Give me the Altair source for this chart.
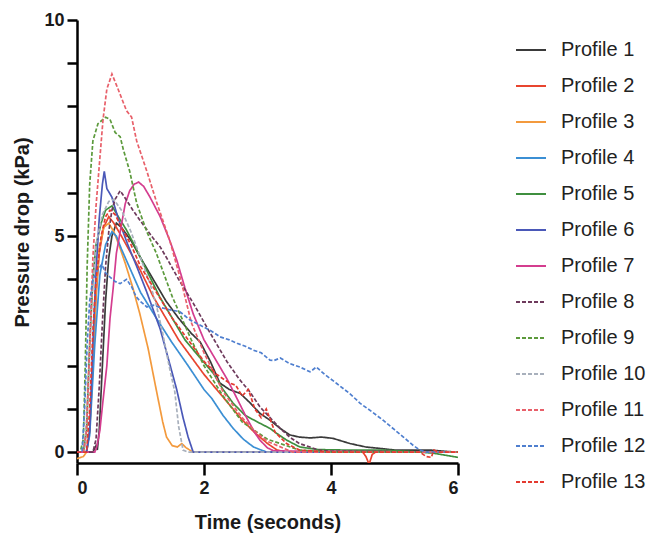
import altair as alt
import pandas as pd

profiles = [f"Profile {i}" for i in range(1, 14)]
colors = ["#3a3a3a", "#e8452f", "#f39a3d", "#3b8fd4", "#3f8f3f", "#4a58b8", "#d43d8f",
          "#6e3a5c", "#5c9a3c", "#a8b0bc", "#e8606a", "#4f7fcf", "#e43a30"]
dashes = [[1, 0]] * 7 + [[4, 2]] * 6

p1_t = [0, 0.25, 0.3, 0.32, 0.35, 0.4, 0.45, 0.5, 0.55, 0.62, 0.7, 0.85, 1.0, 1.2, 1.4, 1.6, 1.8, 1.94, 2.1, 2.25, 2.4, 2.57, 2.72, 2.88, 3.04, 3.2, 3.35, 3.5, 3.67, 3.85, 4.03, 4.3, 4.55, 4.82, 5.0, 5.3, 5.56, 5.8, 6.0]
p1_p = [0, 0, 0.15, 0.05, 0.5, 2.0, 3.5, 4.5, 5.0, 5.3, 5.2, 4.9, 4.5, 4.0, 3.5, 3.1, 2.75, 2.55, 2.1, 1.6, 1.45, 1.36, 1.15, 0.9, 0.74, 0.55, 0.4, 0.35, 0.33, 0.35, 0.32, 0.2, 0.12, 0.08, 0.05, 0.05, 0.05, 0.02, 0]

p2_t = [0, 0.15, 0.2, 0.25, 0.3, 0.35, 0.42, 0.5, 0.58, 0.7, 0.85, 1.0, 1.2, 1.4, 1.6, 1.8, 2.0, 2.2, 2.4, 2.6, 2.8, 3.0, 3.15, 3.3, 4.5, 4.55, 4.6, 4.65, 4.7, 6.0]
p2_p = [0, 0, 0.5, 2.0, 3.6, 4.6, 5.2, 5.45, 5.3, 5.0, 4.6, 4.2, 3.6, 3.1, 2.6, 2.2, 1.8, 1.45, 1.1, 0.75, 0.45, 0.2, 0.05, 0, 0, -0.1, -0.28, -0.05, 0, 0]

p3_t = [0, 0.1, 0.15, 0.2, 0.25, 0.3, 0.35, 0.42, 0.5, 0.58, 0.66, 0.76, 0.88, 0.99, 1.12, 1.25, 1.35, 1.41, 1.5, 1.58, 1.65, 1.72, 1.83, 6.0]
p3_p = [-0.15, -0.1, 0, 0.5, 2.0, 3.7, 4.7, 5.2, 5.3, 5.1, 4.8, 4.37, 3.8, 3.2, 2.4, 1.43, 0.7, 0.35, 0.15, 0.12, 0.2, 0.1, 0, 0]

p4_t = [0, 0.15, 0.2, 0.28, 0.36, 0.45, 0.55, 0.62, 0.7, 0.85, 1.0, 1.25, 1.49, 1.75, 2.0, 2.12, 2.3, 2.46, 2.62, 2.78, 2.9, 3.0, 6.0]
p4_p = [0, 0, 0.4, 2.5, 4.1, 4.8, 5.1, 5.0, 4.7, 4.2, 3.7, 3.1, 2.55, 2.0, 1.45, 1.25, 0.85, 0.55, 0.3, 0.12, 0.05, 0, 0]

p5_t = [0, 0.1, 0.15, 0.2, 0.25, 0.3, 0.38, 0.45, 0.55, 0.65, 0.78, 0.9, 1.1, 1.3, 1.5, 1.7, 1.9, 2.15, 2.3, 2.46, 2.65, 2.88, 3.04, 3.14, 3.3, 3.51, 3.8, 4.2, 4.8, 5.2, 5.6, 6.0]
p5_p = [0, 0, 0.5, 2.5, 4.0, 4.8, 5.3, 5.6, 5.7, 5.45, 5.14, 4.8, 4.2, 3.6, 3.1, 2.6, 2.25, 1.82, 1.45, 1.13, 0.85, 0.67, 0.55, 0.44, 0.28, 0.12, 0.06, 0.05, 0.05, 0.02, -0.02, -0.12]

p6_t = [0, 0.15, 0.2, 0.25, 0.3, 0.35, 0.4, 0.43, 0.47, 0.55, 0.65, 0.8, 0.94, 1.1, 1.31, 1.45, 1.57, 1.67, 1.75, 1.83, 6.0]
p6_p = [0, 0, 0.5, 2.5, 4.2, 5.4, 6.2, 6.5, 6.1, 5.9, 5.4, 4.8, 4.3, 3.7, 2.85, 2.1, 1.45, 0.8, 0.35, 0, 0]

p7_t = [0, 0.28, 0.31, 0.36, 0.41, 0.47, 0.52, 0.57, 0.62, 0.68, 0.76, 0.83, 0.9, 0.97, 1.05, 1.15, 1.31, 1.46, 1.57, 1.7, 1.83, 2.0, 2.2, 2.36, 2.5, 2.67, 2.8, 2.88, 3.0, 3.1, 6.0]
p7_p = [0, 0, 0.12, 0.5, 1.2, 2.0, 3.1, 3.8, 4.6, 5.1, 5.75, 6.05, 6.2, 6.25, 6.15, 5.9, 5.45, 4.9, 4.45, 3.8, 3.2, 2.6, 2.1, 1.7, 1.3, 0.8, 0.45, 0.28, 0.1, 0.03, 0]

p8_t = [0, 0.25, 0.3, 0.35, 0.4, 0.45, 0.5, 0.55, 0.6, 0.68, 0.75, 0.88, 1.0, 1.1, 1.2, 1.31, 1.41, 1.6, 1.83, 2.1, 2.36, 2.55, 2.72, 2.88, 3.04, 3.2, 3.35, 3.5, 3.67, 3.8, 4.0, 6.0]
p8_p = [0, 0, 0.3, 1.5, 3.0, 4.3, 5.1, 5.6, 5.85, 6.05, 5.9, 5.6, 5.35, 5.15, 4.95, 4.75, 4.5, 4.0, 3.45, 2.75, 2.1, 1.7, 1.4, 1.05, 0.8, 0.55, 0.35, 0.2, 0.12, 0.05, 0.02, 0]

p9_t = [0, 0.05, 0.1, 0.13, 0.16, 0.2, 0.25, 0.33, 0.45, 0.52, 0.6, 0.68, 0.73, 0.83, 0.94, 1.1, 1.25, 1.5, 1.8, 2.0, 2.3, 2.6, 3.0, 3.5, 4.0, 6.0]
p9_p = [0, 0, 0.3, 2.0, 4.3, 6.2, 7.2, 7.6, 7.75, 7.7, 7.4, 7.3, 7.0, 6.5, 5.76, 5.1, 4.6, 3.6, 2.6, 2.0, 1.3, 0.7, 0.3, 0.05, 0, 0]

p10_t = [0, 0.12, 0.18, 0.23, 0.3, 0.4, 0.5, 0.58, 0.7, 0.85, 1.0, 1.15, 1.25, 1.35, 1.45, 1.54, 1.6, 1.67, 1.75, 6.0]
p10_p = [0, 0, 1.5, 3.5, 4.8, 5.5, 5.8, 5.85, 5.6, 5.1, 4.5, 3.9, 3.4, 2.75, 2.0, 1.4, 0.6, 0.05, 0, 0]

p11_t = [0, 0.1, 0.15, 0.2, 0.25, 0.3, 0.36, 0.41, 0.47, 0.55, 0.62, 0.7, 0.78, 0.86, 0.94, 1.1, 1.25, 1.46, 1.65, 1.8, 2.0, 2.3, 2.6, 2.83, 3.0, 3.4, 6.0]
p11_p = [0, 0, 0.5, 2.5, 4.5, 5.7, 6.8, 7.7, 8.4, 8.75, 8.5, 8.2, 7.9, 7.75, 7.2, 6.5, 5.8, 4.9, 3.9, 3.0, 2.3, 1.4, 0.8, 0.45, 0.25, 0, 0]

p12_t = [0, 0.08, 0.12, 0.16, 0.2, 0.25, 0.32, 0.39, 0.45, 0.52, 0.6, 0.68, 0.78, 0.86, 0.93, 0.99, 1.1, 1.2, 1.31, 1.45, 1.62, 1.78, 1.99, 2.12, 2.25, 2.4, 2.52, 2.65, 2.78, 2.9, 3.04, 3.1, 3.2, 3.35, 3.51, 3.67, 3.77, 3.9, 4.09, 4.3, 4.46, 4.65, 4.82, 5.0, 5.14, 5.3, 5.4, 5.5, 5.8]
p12_p = [0, 0, 1.0, 2.5, 3.5, 4.0, 4.2, 4.35, 4.15, 4.05, 3.95, 3.9, 4.0, 3.83, 3.6, 3.5, 3.36, 3.4, 3.35, 3.3, 3.25, 3.06, 2.9, 2.8, 2.67, 2.6, 2.52, 2.45, 2.36, 2.3, 2.13, 2.12, 2.18, 2.05, 1.97, 1.86, 1.97, 1.8, 1.59, 1.35, 1.13, 0.93, 0.74, 0.52, 0.35, 0.15, 0.05, 0, 0]

p13_t = [0, 0.15, 0.2, 0.25, 0.3, 0.38, 0.45, 0.52, 0.6, 0.7, 0.85, 1.0, 1.25, 1.5, 1.75, 2.0, 2.2, 2.4, 2.5, 2.6, 2.7, 2.8, 2.9, 2.98, 3.12, 3.3, 3.5, 4.0, 5.4, 5.5, 5.58, 5.62, 5.7, 6.0]
p13_p = [0, 0, 1.0, 2.8, 4.0, 5.0, 5.45, 5.6, 5.5, 5.2, 4.8, 4.3, 3.7, 3.1, 2.6, 2.1, 1.8, 1.6, 1.55, 1.3, 1.45, 1.0, 0.8, 1.0, 0.46, 0.2, 0.05, 0, 0, -0.1, -0.12, 0.05, 0, 0]

series = [(p1_t, p1_p), (p2_t, p2_p), (p3_t, p3_p), (p4_t, p4_p), (p5_t, p5_p),
          (p6_t, p6_p), (p7_t, p7_p), (p8_t, p8_p), (p9_t, p9_p), (p10_t, p10_p),
          (p11_t, p11_p), (p12_t, p12_p), (p13_t, p13_p)]

rows = []
for name, (ts, ps) in zip(profiles, series):
    assert len(ts) == len(ps), name
    for i, (t, p) in enumerate(zip(ts, ps)):
        rows.append({"Time": t, "Pressure": p, "Profile": name, "i": i})
df = pd.DataFrame(rows)

FONT = "Liberation Sans"

chart = alt.Chart(df).mark_line(strokeWidth=1.7, clip=True).encode(
    x=alt.X("Time:Q",
            scale=alt.Scale(domain=[0, 6], nice=False, zero=False),
            axis=alt.Axis(values=[0, 2, 4, 6], title="Time (seconds)", grid=False,
                          tickSize=12, tickWidth=2.5, domainWidth=2.5,
                          domainColor="black", tickColor="black",
                          labelFont=FONT, labelFontWeight="bold", labelFontSize=18,
                          labelColor="#1a1a1a", labelPadding=4,
                          titleFont=FONT, titleFontWeight="bold", titleFontSize=20,
                          titleColor="#1a1a1a", titleBaseline="alphabetic", titleY=65)),
    y=alt.Y("Pressure:Q",
            scale=alt.Scale(domain=[-0.25, 10], nice=False, zero=False),
            axis=alt.Axis(values=list(range(11)),
                          labelExpr="datum.value % 5 == 0 ? datum.label : ''",
                          title="Pressure drop (kPa)", grid=False,
                          tickSize=10, tickWidth=2.5, domainWidth=2.5,
                          domainColor="black", tickColor="black",
                          labelFont=FONT, labelFontWeight="bold", labelFontSize=18,
                          labelColor="#1a1a1a", labelPadding=3,
                          titleFont=FONT, titleFontWeight="bold", titleFontSize=20,
                          titleColor="#1a1a1a", titleBaseline="alphabetic",
                          titleX=-49, titleY=212)),
    color=alt.Color("Profile:N",
                    scale=alt.Scale(domain=profiles, range=colors),
                    legend=alt.Legend(orient="none", legendX=438, legendY=14, title=None,
                                      symbolType="stroke", symbolSize=900,
                                      symbolStrokeWidth=2, labelFont=FONT,
                                      labelFontSize=20, labelColor="#222222",
                                      labelOffset=14, rowPadding=10, padding=0)),
    strokeDash=alt.StrokeDash("Profile:N",
                              scale=alt.Scale(domain=profiles, range=dashes),
                              legend=alt.Legend(orient="none", legendX=438, legendY=14,
                                                title=None)),
    order=alt.Order("i:Q"),
).properties(
    width=381, height=443,
    padding={"left": 69, "top": 12, "right": 189, "bottom": 72},
    autosize=alt.AutoSizeParams(type="none"),
    background="white",
).configure_view(stroke=None)

chart.save("out.html", embed_options={"renderer": "svg", "actions": False})
